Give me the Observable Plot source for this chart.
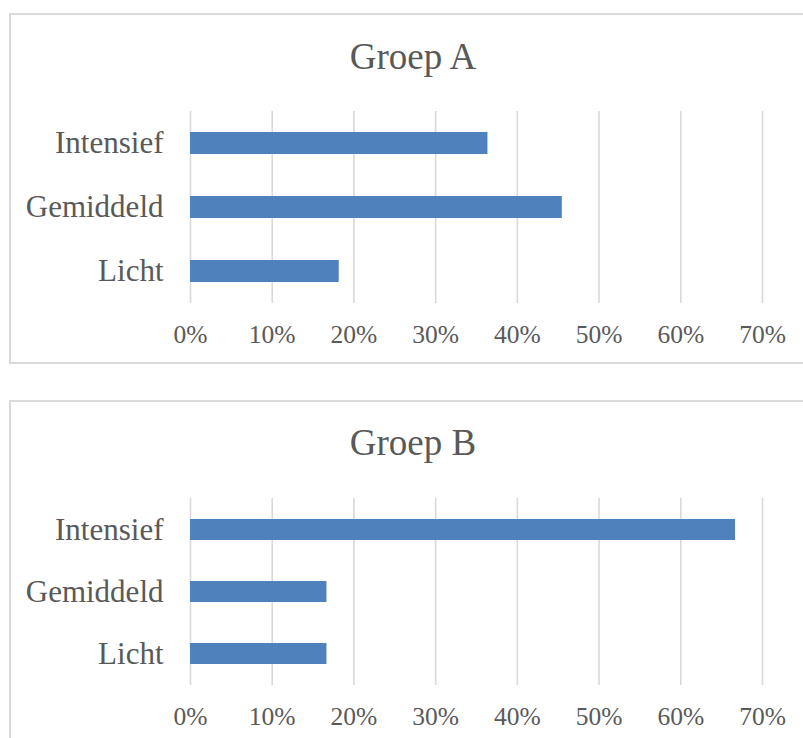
<!DOCTYPE html>
<html>
<head>
<meta charset="utf-8">
<script src="https://cdn.jsdelivr.net/npm/d3@7"></script>
<script src="https://cdn.jsdelivr.net/npm/@observablehq/plot@0.6"></script>
<style>
  html, body { margin: 0; padding: 0; background: #fff; }
  body { position: relative; width: 803px; height: 738px; overflow: hidden; font-family: "Liberation Serif", serif; }
  .panel { position: absolute; left: 9px; width: 830px; border: 2px solid #d9d9d9; box-sizing: border-box; background: #fff; }
  .title { position: absolute; left: 0; width: 826px; text-align: center; font-size: 37px; line-height: 37px; color: #595959; font-family: "Liberation Serif", serif; }
  .chart { position: absolute; left: 0; }
</style>
</head>
<body>
<div class="panel" style="top:13px;height:351px;"></div>
<div class="panel" style="top:400px;height:360px;"></div>
<div class="title" id="titleA" style="top:38px;"></div>
<div class="title" id="titleB" style="top:424px;"></div>
<div class="chart" id="chartA" style="top:100px;"></div>
<div class="chart" id="chartB" style="top:487px;"></div>
<script>
const titles = ["Groep A", "Groep B"];
const categories = ["Intensief", "Gemiddeld", "Licht"];
const groepA = [36.4, 45.5, 18.2];
const groepB = [66.7, 16.7, 16.7];
const tickValues = [0, 10, 20, 30, 40, 50, 60, 70];
const tickLabels = ["0%", "10%", "20%", "30%", "40%", "50%", "60%", "70%"];

function makeChart(values, frameHeight) {
  const data = categories.map((c, i) => ({category: c, value: values[i]}));
  const marginTop = 11, marginBottom = 57;
  return Plot.plot({
    width: 803,
    height: marginTop + frameHeight + marginBottom,
    marginLeft: 190,
    marginRight: 41,
    marginTop,
    marginBottom,
    style: {fontFamily: "Liberation Serif, serif", color: "#595959", background: "transparent"},
    x: {domain: [0, 70]},
    y: {domain: categories, paddingInner: 0.655, paddingOuter: 0.3275},
    marks: [
      Plot.gridX(tickValues, {stroke: "#d9d9d9", strokeOpacity: 1, strokeWidth: 1.6}),
      Plot.barX(data, {x: "value", y: "category", fill: "#4f81bd"}),
      Plot.axisX({ticks: tickValues, tickFormat: (d) => tickLabels[tickValues.indexOf(d)], tickSize: 0, tickPadding: 21, fontSize: 25.5, fill: "#595959", label: null}),
      Plot.axisY({tickSize: 0, tickPadding: 27, fontSize: 31, fill: "#595959", label: null})
    ]
  });
}

document.getElementById("titleA").textContent = titles[0];
document.getElementById("titleB").textContent = titles[1];
document.getElementById("chartA").appendChild(makeChart(groepA, 192));
document.getElementById("chartB").appendChild(makeChart(groepB, 187));
</script>
</body>
</html>
